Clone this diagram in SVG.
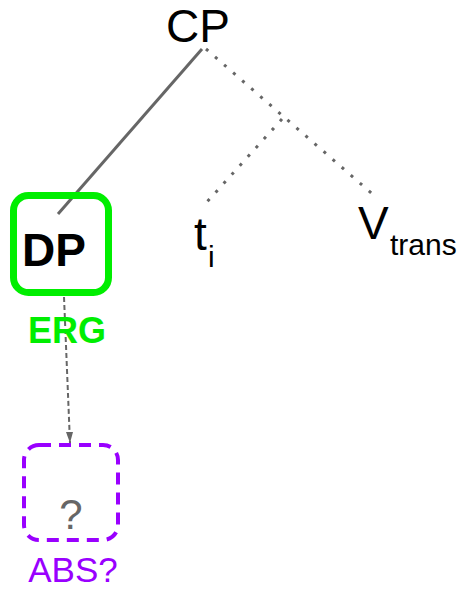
<svg xmlns="http://www.w3.org/2000/svg" width="465" height="589" viewBox="0 0 465 589">
<defs>
<style>
text{font-family:"Liberation Sans",Arial,sans-serif}
.lbl{font-size:46px;fill:#000}
.sub{font-size:30px;fill:#000}
.edge{stroke:#666;stroke-width:3;fill:none}
.dot{stroke:#666;stroke-width:3;fill:none;stroke-dasharray:3 9}
</style>
<marker id="ah" markerWidth="10" markerHeight="12" refX="5" refY="11" orient="auto-start-reverse" markerUnits="userSpaceOnUse" viewBox="0 0 10 12">
<path d="M0,0 L10,0 L5,12 Z" fill="#666"/>
</marker>
</defs>
<rect width="465" height="589" fill="#fff"/>
<g id="connectors">
<line class="edge" x1="202" y1="49" x2="58" y2="214"/>
<line class="dot" x1="206" y1="49" x2="377" y2="198"/>
<line class="dot" x1="282" y1="119" x2="206" y2="203"/>
<path d="M64,297 L70,443" stroke="#666" stroke-width="2" stroke-dasharray="5 3" fill="none"/>
<path d="M68.6,432 L73,432 L70,443 L66,432 Z" fill="#666"/>
</g>
<g id="CP"><text class="lbl" x="198" y="42" text-anchor="middle">CP</text></g>
<g id="DP">
<rect x="13.5" y="195.5" width="95" height="97" rx="15" fill="none" stroke="#00ee00" stroke-width="7"/>
<text x="54" y="266" text-anchor="middle" font-size="46" font-weight="bold" fill="#000">DP</text>
<text x="67" y="343" text-anchor="middle" font-size="36" font-weight="bold" fill="#00ee00">ERG</text>
</g>
<g id="t"><text class="lbl" x="194" y="250">t</text><text class="sub" x="208" y="267">i</text></g>
<g id="V"><text class="lbl" x="358" y="239">V</text><text class="sub" x="390" y="255">trans</text></g>
<g id="ABS">
<rect x="24" y="445" width="94" height="95" rx="15" fill="none" stroke="#9900ff" stroke-width="4" stroke-dasharray="12 8"/>
<text x="71" y="529" text-anchor="middle" font-size="42" fill="#666">?</text>
<text x="73" y="582" text-anchor="middle" font-size="35" fill="#9900ff">ABS?</text>
</g>
</svg>
